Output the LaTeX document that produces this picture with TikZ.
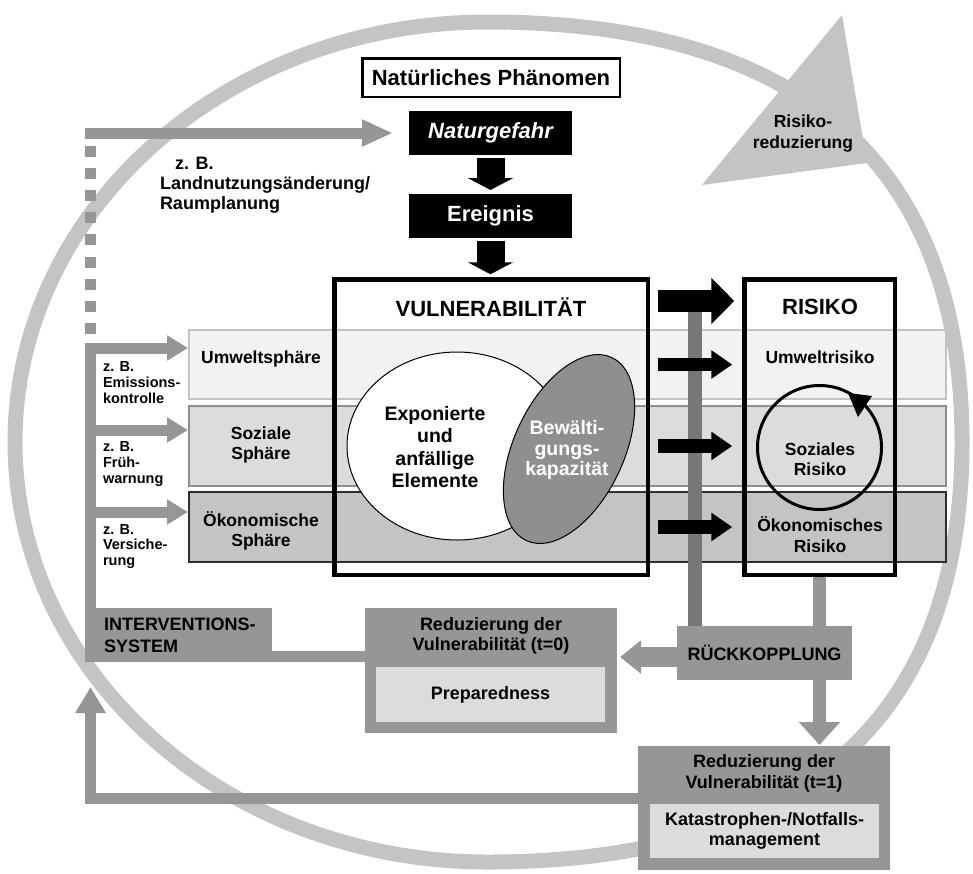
\documentclass[tikz,border=0pt]{standalone}
\usepackage{fontspec}
\setmainfont{Liberation Sans}
\usetikzlibrary{arrows.meta}

\definecolor{ringgray}{HTML}{C4C4C4}
\definecolor{midgray}{HTML}{969696}
\definecolor{bargray}{HTML}{777777}
\definecolor{lightbox}{HTML}{DCDCDC}
\definecolor{umweltfill}{HTML}{F2F2F2}
\definecolor{umweltline}{HTML}{C2C2C2}
\definecolor{sozialfill}{HTML}{DCDCDC}
\definecolor{sozialline}{HTML}{8E8E8E}
\definecolor{oekofill}{HTML}{C4C4C4}
\definecolor{oekoline}{HTML}{2E2E2E}
\definecolor{bewgray}{HTML}{8F8F8F}

\newcommand{\setfs}[2]{\fontsize{#1}{#2}\selectfont\bfseries}

\begin{document}
\begin{tikzpicture}[x=1pt, y=-1pt,
        every node/.style={inner sep=0pt, outer sep=0pt},
        ring/.style={draw=ringgray, line width=15pt},
        headtext/.style={font=\setfs{22}{26}},
        blackbox/.style={fill=black, text=white, minimum width=163pt, minimum height=44pt, font=\setfs{22}{26}},
        band/.style={line width=1.2pt, minimum width=757pt},
        spheretext/.style={align=center, font=\setfs{17.5}{20.5}},
        zbtext/.style={anchor=west, align=left, font=\setfs{14.5}{15.7}},
        midbox/.style={fill=midgray},
        innerbox/.style={fill=lightbox, minimum width=229pt, minimum height=55pt, align=center, font=\setfs{18}{19.5}},
        boxtext/.style={align=center, font=\setfs{18}{21}},
        graybar/.style={draw=midgray, line width=11pt, line join=miter},
        blackarrow/.style={draw=black, line width=#1}]
        \useasboundingbox (0, 0) rectangle (973, 873);
        \draw[ring] (487.5, 22) .. controls (772, 22) and (962, 140) .. (962, 442)
            .. controls (962, 744) and (772, 862) .. (487.5, 862)
            .. controls (226.5, 862) and (15, 674) .. (15, 442)
            .. controls (15, 210) and (226.5, 22) .. (487.5, 22);
        \fill[ringgray] (842, 15) -- (702, 185) -- (867, 163) -- cycle;
        \node[align=center, font=\setfs{17.5}{21}] (reduz) at (803, 134) {Risiko-\\reduzierung};

        \node[draw, line width=2.5pt, fill=white, minimum width=257.5pt, minimum height=38.5pt, headtext] (phaen) at (491, 77.5) {Natürliches Phänomen};
        \node[blackbox, font=\setfs{22}{26}\itshape] (gefahr) at (490.5, 133) {Naturgefahr};
        \node[blackbox] (ereignis) at (490.5, 216) {Ereignis};

        \coordinate (plan) at (85, 133);
        \draw[graybar, -{Triangle[width=25pt, length=31pt]}, shorten >=16pt] (plan) -- (gefahr.west);
        \coordinate (dashtop) at (90.5, 146);
        \coordinate (dashbot) at (90.5, 334);
        \draw[graybar, dash pattern=on 11pt off 11.1pt] (dashtop) -- (dashbot);
        \node[anchor=west, align=left, font=\setfs{18}{20}] (planung) at (160, 185) {\hspace*{15pt}z. B.\\Landnutzungsänderung/\\Raumplanung};

        \node[fill=white, minimum width=313.5pt, minimum height=295.5pt] (vul) at (491, 427) {};
        \node[fill=white, minimum width=150.5pt, minimum height=295.5pt] (risiko) at (819.5, 427) {};
        \node[band, draw=umweltline, fill=umweltfill, minimum height=69pt] (umwelt) at (567.5, 364.5) {};
        \node[band, draw=sozialline, fill=sozialfill, minimum height=80pt] (sozial) at (567.5, 446) {};
        \node[band, draw=oekoline, fill=oekofill, minimum height=70pt] (oeko) at (567.5, 527) {};
        \node[spheretext] (umwelttext) at (261, 359) {Umweltsphäre};
        \node[spheretext] (sozialtext) at (261, 445) {Soziale\\Sphäre};
        \node[spheretext] (oekotext) at (261, 531) {Ökonomische\\Sphäre};

        \draw[fill=white, line width=1pt] (457, 446) ellipse [x radius=110, y radius=94];
        \node[align=center, font=\setfs{19.5}{22.6}] (expo) at (435, 447) {Exponierte\\und\\anfällige\\Elemente};
        \draw[fill=bewgray, line width=1pt, rotate around={65:(569, 449)}] (569, 449) ellipse [x radius=101, y radius=55];
        \node[align=center, text=white, font=\setfs{19.5}{20.5}] (bew) at (567, 450) {Bewälti-\\gungs-\\kapazität};

        \draw[line width=4.5pt] (vul.north west) rectangle (vul.south east);
        \draw[line width=4.5pt] (risiko.north west) rectangle (risiko.south east);
        \node[headtext] (vultitle) at (491, 307) {VULNERABILITÄT};
        \node[headtext] (risikotitle) at (820, 307) {RISIKO};

        \node[font=\setfs{17.5}{20}] (umweltrisiko) at (820, 357) {Umweltrisiko};
        \draw[line width=3pt] (819.5, 447.5) circle [radius=62];
        \fill (848, 393) -- (872, 396) -- (858, 417) -- cycle;
        \node[align=center, font=\setfs{17.5}{20}] (sozialrisiko) at (820, 459) {Soziales\\Risiko};
        \node[align=center, font=\setfs{17.5}{21}] (oekorisiko) at (820, 534.5) {Ökonomisches\\Risiko};

        \node[midbox, minimum width=175pt, minimum height=54pt, boxtext] (rueck) at (764.5, 653) {RÜCKKOPPLUNG};
        \node[midbox, minimum width=252pt, minimum height=125pt] (red0) at (491, 670.5) {};
        \node[boxtext, font=\setfs{18}{20}] (red0text) at (491, 636) {Reduzierung der\\Vulnerabilität (t=0)};
        \node[innerbox] (prep) at (490.5, 694.5) {Preparedness};
        \node[midbox, minimum width=187pt, minimum height=54pt] (interv) at (178.5, 635) {};
        \node[anchor=west, align=left, font=\setfs{18}{22.5}] (intervtext) at (104, 635.5) {INTERVENTIONS-\\SYSTEM};
        \node[midbox, minimum width=252pt, minimum height=124pt] (red1) at (764, 808) {};
        \node[boxtext] (red1text) at (764, 773.5) {Reduzierung der\\Vulnerabilität (t=1)};
        \node[innerbox, minimum height=54pt] (kat) at (764.5, 831) {Katastrophen-/Notfalls-\\management};

        \coordinate (fbtop) at (695, 301);
        \draw[draw=bargray, line width=13.3pt] (fbtop) -- (fbtop |- rueck.north);
        \draw[blackarrow=22.7pt, -{Triangle[width=45pt, length=23pt]}, shorten <=10pt, shorten >=10pt] (vul.east |- fbtop) -- (risiko.west |- fbtop);
        \draw[blackarrow=13.3pt, -{Triangle[width=27.3pt, length=21pt]}, shorten <=10pt, shorten >=12pt] (vul.east |- umwelt.center) -- (risiko.west |- umwelt.center);
        \draw[blackarrow=13.3pt, -{Triangle[width=27.3pt, length=21pt]}, shorten <=10pt, shorten >=12pt] (vul.east |- sozial.center) -- (risiko.west |- sozial.center);
        \draw[blackarrow=13.3pt, -{Triangle[width=27.3pt, length=21pt]}, shorten <=10pt, shorten >=12pt] (vul.east |- oeko.center) -- (risiko.west |- oeko.center);
        \draw[blackarrow=28pt, -{Triangle[width=45pt, length=12pt]}, shorten <=3pt, shorten >=4pt] (gefahr.south) -- (ereignis.north);
        \draw[blackarrow=28pt, -{Triangle[width=45pt, length=12pt]}, shorten <=3pt, shorten >=5pt] (ereignis.south) -- (ereignis.south |- vul.north);

        \coordinate (lcorner) at (90.5, 348);
        \coordinate (fruehw) at (90.5, 430);
        \coordinate (versich) at (90.5, 512);
        \draw[graybar, -{Triangle[width=24pt, length=21pt]}, shorten >=1pt] (lcorner |- interv.north) -- (lcorner) -- (lcorner -| umwelt.west);
        \draw[graybar, -{Triangle[width=24pt, length=21pt]}, shorten >=1pt] (fruehw) -- (fruehw -| sozial.west);
        \draw[graybar, -{Triangle[width=24pt, length=21pt]}, shorten >=1pt] (versich) -- (versich -| oeko.west);
        \node[zbtext] (emission) at (103, 382.5) {z. B.\\Emissions-\\kontrolle};
        \node[zbtext] (fruehwarn) at (103, 464) {z. B.\\Früh-\\warnung};
        \node[zbtext] (versicherung) at (103, 546.5) {z. B.\\Versiche-\\rung};

        \coordinate (ivlink) at (272, 656.5);
        \draw[graybar] (ivlink) -- (ivlink -| red0.west);
        \coordinate (rueckout) at ([yshift=-4pt]rueck.west);
        \draw[draw=midgray, line width=20pt, -{Triangle[width=32pt, length=21pt]}, shorten >=3pt] (rueckout) -- (rueckout -| red0.east);
        \draw[draw=midgray, line width=13pt, shorten <=2.5pt] (risiko.south) -- (risiko.south |- rueck.north);
        \draw[draw=midgray, line width=13pt, -{Triangle[width=40pt, length=23pt]}, shorten >=1pt] (risiko.south |- rueck.south) -- (risiko.south |- red1.north);
        \coordinate (fbtip) at (90.5, 687);
        \draw[graybar, -{Triangle[width=29pt, length=26pt]}] ([yshift=10pt]red1.west) -| (fbtip);
\end{tikzpicture}
\end{document}
